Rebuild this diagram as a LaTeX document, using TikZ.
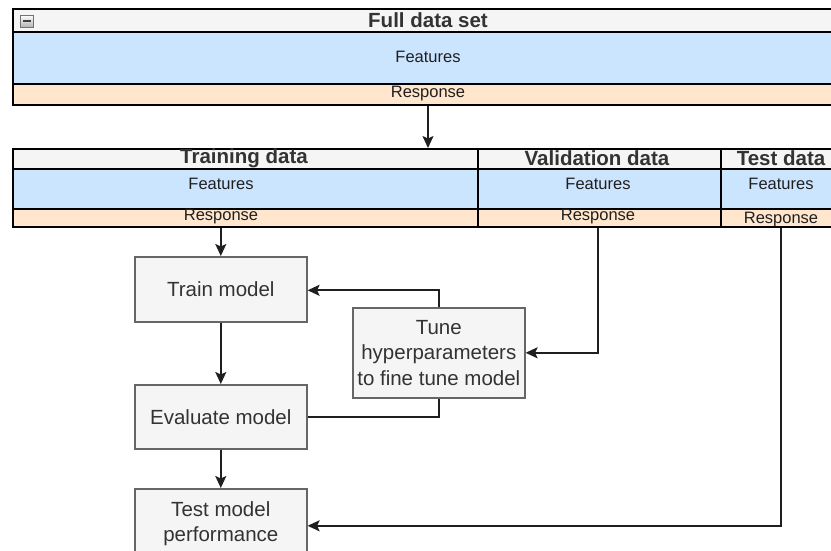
\documentclass[tikz,border=0pt]{standalone}
\usepackage{fontspec}
\setmainfont{Liberation Sans}
\usetikzlibrary{arrows.meta}
\definecolor{headfill}{HTML}{F5F5F5}
\definecolor{featfill}{HTML}{CCE5FF}
\definecolor{respfill}{HTML}{FFE6CC}
\definecolor{boxline}{HTML}{666666}
\definecolor{boxtext}{HTML}{333333}
\tikzset{
  cell/.style={draw=black, line width=1.7pt, inner sep=0pt, anchor=north west},
  headtxt/.style={font=\fontsize{20.5}{22}\selectfont\bfseries, text=boxtext, inner sep=0pt},
  celltxt/.style={font=\fontsize{16.5}{18}\selectfont, text=black!88, inner sep=0pt},
  procbox/.style={draw=boxline, fill=headfill, line width=1.6pt, inner sep=0pt, anchor=north west,
    font=\fontsize{20.5}{25.5}\selectfont, text=boxtext, align=center},
  conn/.style={line width=1.7pt, draw=black!88},
  arr/.style={conn, -{Stealth[length=12pt,width=11pt,inset=2.5pt]}}
}
\begin{document}
\begin{tikzpicture}[x=1pt,y=-1pt]
\useasboundingbox (0,0) rectangle (831,550);
% ---- full data set table
\node[cell, fill=headfill, minimum width=821pt, minimum height=23pt] (fullhead) at (12,8) {};
\node[cell, fill=featfill, minimum width=821pt, minimum height=52pt] (fullfeat) at (12,31) {};
\node[cell, fill=respfill, minimum width=821pt, minimum height=21pt] (fullresp) at (12,83) {};
\node[headtxt] (fulltitle) at (428,20) {Full data set};
\node[celltxt] (fullfeattxt) at (428,57) {Features};
\node[celltxt] (fullresptxt) at (428,94) {Response};
% collapse icon
\node[draw=black!55, top color=white, bottom color=black!30, minimum width=13pt, minimum height=12pt, inner sep=0pt] (icon) at (27,21) {};
\draw[line width=1.6pt, black!75] ([xshift=3pt]icon.west) -- ([xshift=-3pt]icon.east);
% ---- split table
\node[cell, fill=headfill, minimum width=465pt, minimum height=20pt] (trhead) at (12,148) {};
\node[cell, fill=featfill, minimum width=465pt, minimum height=40pt] (trfeat) at (12,168) {};
\node[cell, fill=respfill, minimum width=465pt, minimum height=18pt] (trresp) at (12,208) {};
\node[cell, fill=headfill, minimum width=243pt, minimum height=20pt] (vahead) at (477,148) {};
\node[cell, fill=featfill, minimum width=243pt, minimum height=40pt] (vafeat) at (477,168) {};
\node[cell, fill=respfill, minimum width=243pt, minimum height=18pt] (varesp) at (477,208) {};
\node[cell, fill=headfill, minimum width=113pt, minimum height=20pt] (tehead) at (720,148) {};
\node[cell, fill=featfill, minimum width=113pt, minimum height=40pt] (tefeat) at (720,168) {};
\node[cell, fill=respfill, minimum width=113pt, minimum height=18pt] (teresp) at (720,208) {};
\node[headtxt] (trtitle) at (244,158) {Training data};
\node[headtxt] (vatitle) at (597,158) {Validation data};
\node[headtxt] (tetitle) at (781,158) {Test data};
\node[celltxt] (trfeattxt) at (221,184) {Features};
\node[celltxt] (vafeattxt) at (598,184) {Features};
\node[celltxt] (tefeattxt) at (781,184) {Features};
\node[celltxt] (trresptxt) at (221,217) {Response};
\node[celltxt] (varesptxt) at (598,217) {Response};
\node[celltxt] (teresptxt) at (781,219.5) {Response};
% ---- process boxes
\node[procbox, minimum width=172pt, minimum height=65pt] (train) at (134,256) {Train model};
\node[procbox, minimum width=172pt, minimum height=64pt] (eval) at (134,384) {Evaluate model};
\node[procbox, minimum width=172pt, minimum height=70pt] (test) at (134,488) {Test model\\performance};
\node[procbox, minimum width=172pt, minimum height=90pt] (tune) at (352,307) {Tune\\hyperparameters\\to fine tune model};
% ---- connectors
\draw[arr] (fullresp.south -| fulltitle) -- (fulltitle |- trhead.north);
\draw[arr] (trresp.south -| train) -- (train.north);
\draw[arr] (train.south) -- (eval.north);
\draw[arr] (eval.south) -- (test.north);
\draw[arr] (tune.north) |- ([yshift=-1pt]train.east);
\draw[conn] (eval.east) -| (tune.south);
\draw[arr] (varesp.south -| varesptxt) |- (tune.east);
\draw[arr] (teresp.south -| teresptxt) |- ([yshift=-2pt]test.east);
\end{tikzpicture}
\end{document}
